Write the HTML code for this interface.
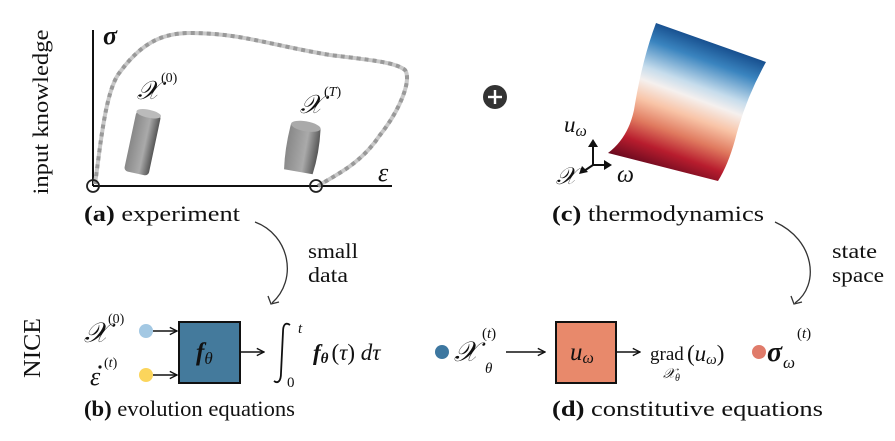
<!DOCTYPE html>
<html><head><meta charset="utf-8">
<style>
html,body{margin:0;padding:0;background:#fff;}
svg{display:block;}
text{font-family:"Liberation Serif",serif;fill:#111;}
.it{font-style:italic;}
</style></head>
<body>
<svg width="895" height="441" viewBox="0 0 895 441" xmlns="http://www.w3.org/2000/svg">
<defs>
<linearGradient id="sg" gradientUnits="userSpaceOnUse" x1="712" y1="35" x2="662" y2="172">
<stop offset="0" stop-color="#0b3c7d"/>
<stop offset="0.18" stop-color="#3a84bf"/>
<stop offset="0.36" stop-color="#c6dcec"/>
<stop offset="0.45" stop-color="#f5f0ee"/>
<stop offset="0.58" stop-color="#f8c3a6"/>
<stop offset="0.72" stop-color="#e07a5f"/>
<stop offset="0.86" stop-color="#b81d2e"/>
<stop offset="1" stop-color="#6b0a1f"/>
</linearGradient>
<linearGradient id="cyl" x1="0" y1="0" x2="1" y2="0">
<stop offset="0" stop-color="#888"/><stop offset="0.6" stop-color="#aaa"/><stop offset="1" stop-color="#555"/>
</linearGradient>
<marker id="ah" viewBox="0 0 10 10" refX="9" refY="5" markerWidth="9" markerHeight="9" markerUnits="userSpaceOnUse" orient="auto"><path d="M1,1 L9,5 L1,9" fill="none" stroke="#111" stroke-width="1.5"/></marker>
</defs>
<!-- panel a -->
<text x="48" y="112" font-size="22" textLength="165" lengthAdjust="spacingAndGlyphs" transform="rotate(-90 48 112)" text-anchor="middle">input knowledge</text>
<line x1="93" y1="30" x2="93" y2="186" stroke="#111" stroke-width="2"/>
<line x1="93" y1="186" x2="392" y2="186" stroke="#111" stroke-width="2"/>
<path d="M95,184 C100,150 105,90 120,72 C140,45 160,33 190,33 C240,33 270,45 330,55 C370,60 395,62 405,70 C412,80 400,110 380,135 C360,165 335,175 318,186" fill="none" stroke="#c8c8c8" stroke-width="4"/>
<path d="M95,184 C100,150 105,90 120,72 C140,45 160,33 190,33 C240,33 270,45 330,55 C370,60 395,62 405,70 C412,80 400,110 380,135 C360,165 335,175 318,186" fill="none" stroke="#999" stroke-width="4" stroke-dasharray="4 4"/>
<circle cx="93" cy="186" r="6" fill="none" stroke="#222" stroke-width="1.8"/>
<circle cx="316" cy="186" r="6" fill="none" stroke="#222" stroke-width="1.8"/>
<text x="103" y="44" font-size="26" font-weight="bold" class="it">σ</text>
<text x="378" y="181" font-size="26" class="it">ε</text>
<text x="137" y="99" font-size="26" class="it">𝒳</text><text x="161" y="82" font-size="14">(0)</text>
<text x="300" y="113" font-size="26" class="it">𝒳</text><text x="324" y="96" font-size="14">(<tspan class="it">T</tspan>)</text>
<g transform="rotate(12 142 143)"><rect x="130" y="112" width="25" height="62" rx="4" fill="url(#cyl)"/><ellipse cx="142.5" cy="113" rx="12.5" ry="4" fill="#bbb"/></g>
<g transform="rotate(10 302 148)"><path d="M287,126 Q285,150 288,172 L317,172 Q320,150 317,126 Z" fill="url(#cyl)"/><ellipse cx="302" cy="126" rx="15" ry="5" fill="#aaa"/></g>
<text x="84" y="221" font-size="22" textLength="156" lengthAdjust="spacingAndGlyphs"><tspan font-weight="bold">(a)</tspan> experiment</text>
<!-- plus -->
<circle cx="495" cy="97" r="12" fill="#333"/>
<line x1="488" y1="97" x2="502" y2="97" stroke="#fff" stroke-width="2.4"/>
<line x1="495" y1="90" x2="495" y2="104" stroke="#fff" stroke-width="2.4"/>
<!-- surface -->
<path d="M656,23 L766,62 Q745,100 735,140 Q728,165 718,181 L608,153 Q628,138 634,110 Q642,60 656,23 Z" fill="url(#sg)"/>
<text x="564" y="132" font-size="23" class="it">u<tspan font-size="16" dy="4">ω</tspan></text>
<line x1="593" y1="165" x2="593" y2="145" stroke="#111" stroke-width="2"/><path d="M588,147 L593,139 L598,147 Z" fill="#111"/>
<line x1="593" y1="165" x2="606" y2="165" stroke="#111" stroke-width="2"/><path d="M604,160 L612,165 L604,170 Z" fill="#111"/>
<line x1="593" y1="165" x2="584" y2="171" stroke="#111" stroke-width="2"/><path d="M582,166 L579,174 L588,172 Z" fill="#111"/>
<text x="556" y="184" font-size="24" class="it">𝒳</text>
<text x="617" y="182" font-size="24" class="it">ω</text>
<text x="552" y="221" font-size="22" textLength="212" lengthAdjust="spacingAndGlyphs"><tspan font-weight="bold">(c)</tspan> thermodynamics</text>
<!-- curved arrows -->
<path d="M255,222 C290,235 298,280 272,303" fill="none" stroke="#333" stroke-width="1.3"/>
<path d="M268,296 L271,304 L279,302" fill="none" stroke="#333" stroke-width="1.3"/>
<text x="308" y="258" font-size="21" textLength="50" lengthAdjust="spacingAndGlyphs">small</text>
<text x="308" y="282" font-size="21" textLength="40" lengthAdjust="spacingAndGlyphs">data</text>
<path d="M775,222 C815,240 820,285 795,303" fill="none" stroke="#333" stroke-width="1.3"/>
<path d="M791,296 L794,304 L802,302" fill="none" stroke="#333" stroke-width="1.3"/>
<text x="832" y="258" font-size="21" textLength="45" lengthAdjust="spacingAndGlyphs">state</text>
<text x="832" y="282" font-size="21" textLength="52" lengthAdjust="spacingAndGlyphs">space</text>
<!-- bottom -->
<text x="40" y="348" font-size="24" textLength="60" lengthAdjust="spacingAndGlyphs" transform="rotate(-90 40 348)" text-anchor="middle">NICE</text>
<text x="84" y="342" font-size="28" class="it">𝒳</text><text x="108" y="323" font-size="14">(0)</text>
<text x="90" y="385" font-size="26" class="it">ε</text><circle cx="100" cy="367" r="1.6" fill="#111"/><text x="104" y="367" font-size="14">(<tspan class="it">t</tspan>)</text>
<circle cx="146" cy="331" r="7" fill="#a3c8e3"/>
<circle cx="146" cy="375" r="7" fill="#fbd55c"/>
<line x1="153" y1="331" x2="177" y2="331" stroke="#111" stroke-width="1.5" marker-end="url(#ah)"/>
<line x1="153" y1="375" x2="177" y2="375" stroke="#111" stroke-width="1.5" marker-end="url(#ah)"/>
<rect x="179" y="322" width="61" height="61" fill="#447a9c" stroke="#111" stroke-width="2"/>
<text x="196" y="360" font-size="25" font-weight="bold" class="it">f<tspan font-weight="normal" font-size="17" dy="4">θ</tspan></text>
<line x1="241" y1="352" x2="264" y2="352" stroke="#111" stroke-width="1.5" marker-end="url(#ah)"/>
<path d="M290,325 C286,322 283,324 283,332 L281,373 C281,381 278,384 274,381" fill="none" stroke="#111" stroke-width="1.8"/>
<text x="298" y="333" font-size="15" class="it">t</text>
<text x="287" y="387" font-size="15">0</text>
<text x="313" y="360" font-size="23"><tspan font-weight="bold" class="it">f</tspan><tspan font-weight="bold" font-size="15" class="it" dy="3">θ</tspan><tspan dy="-3" dx="3">(</tspan><tspan class="it">τ</tspan>) <tspan class="it">dτ</tspan></text>
<circle cx="442" cy="352" r="7" fill="#3d77a0"/>
<text x="454" y="361" font-size="28" class="it">𝒳</text><text x="482" y="338" font-size="15">(<tspan class="it">t</tspan>)</text><text x="485" y="373" font-size="15" class="it">θ</text>
<line x1="506" y1="352" x2="545" y2="352" stroke="#111" stroke-width="1.6" marker-end="url(#ah)"/>
<rect x="556" y="322" width="60" height="61" fill="#e8896b" stroke="#111" stroke-width="2"/>
<text x="570" y="360" font-size="25" class="it">u<tspan font-size="16" dy="3">ω</tspan></text>
<line x1="617" y1="352" x2="640" y2="352" stroke="#111" stroke-width="1.5" marker-end="url(#ah)"/>
<text x="650" y="360" font-size="19">grad</text>
<text x="663" y="378" font-size="14" class="it">𝒳<tspan font-size="10" dy="3">θ</tspan></text>
<text x="687" y="361" font-size="23">(<tspan class="it">u</tspan><tspan class="it" font-size="15" dy="3">ω</tspan><tspan dy="-3">)</tspan></text>
<circle cx="759" cy="352" r="7" fill="#e07b6a"/>
<text x="767" y="361" font-size="28" font-weight="bold" class="it">σ</text><text x="783" y="368" font-size="17" class="it">ω</text><text x="797" y="338" font-size="15">(<tspan class="it">t</tspan>)</text>
<text x="84" y="416" font-size="22" textLength="211" lengthAdjust="spacingAndGlyphs"><tspan font-weight="bold">(b)</tspan> evolution equations</text>
<text x="552" y="416" font-size="22" textLength="271" lengthAdjust="spacingAndGlyphs"><tspan font-weight="bold">(d)</tspan> constitutive equations</text>
</svg>
</body></html>
